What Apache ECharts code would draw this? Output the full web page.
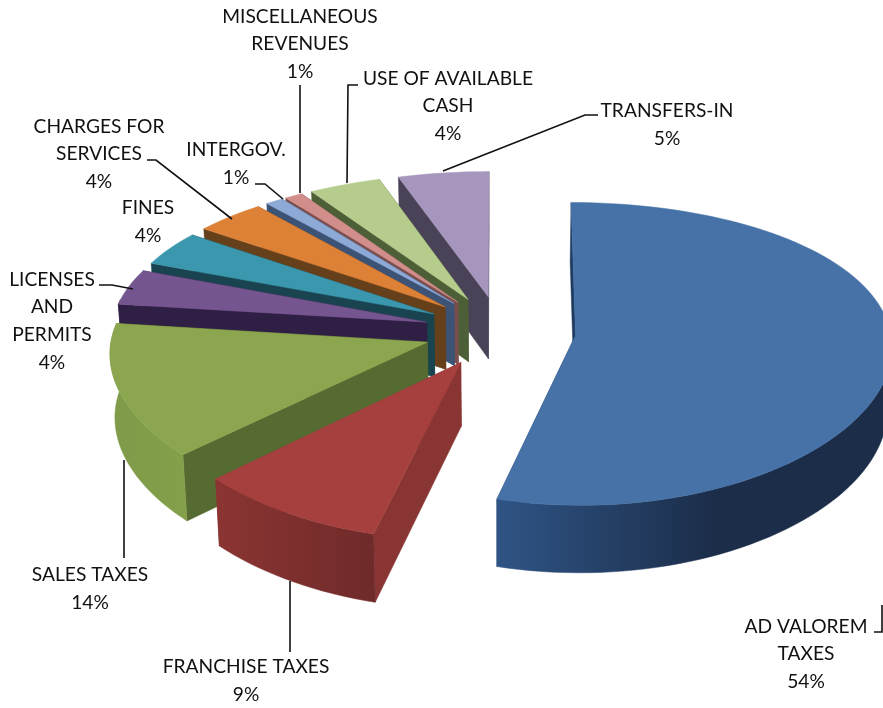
<!DOCTYPE html>
<html>
<head>
<meta charset="utf-8">
<title>Revenue sources</title>
<style>html,body{margin:0;padding:0;background:#fff}#chart{width:883px;height:708px}</style>
<script src="https://cdn.jsdelivr.net/npm/echarts@6/dist/echarts.min.js"></script>
</head>
<body>
<div id="chart"></div>
<script>
// Revenue categories and their percentage shares, clockwise from twelve o'clock.
const categories = [
  'AD VALOREM\nTAXES', 'FRANCHISE TAXES', 'SALES TAXES', 'LICENSES\nAND\nPERMITS', 'FINES',
  'CHARGES FOR\nSERVICES', 'INTERGOV.', 'MISCELLANEOUS\nREVENUES', 'USE OF AVAILABLE\nCASH', 'TRANSFERS-IN'
];
const values = [54, 9, 14, 4, 4, 4, 1, 1, 4, 5];

// Face colours per slice: top, visible side wall, rim gradient (left to right).
const topColors = ['#4672A8', '#A5403F', '#8BA64F', '#74558F', '#3A97AE', '#DD8136', '#8DA9D6', '#D18E8B', '#B5CC8D', '#A695BC'];
const wallColors = ['#1E3B60', '#883533', '#566B31', '#2F1F45', '#19444F', '#66401A', '#3D5376', '#7A4E4C', '#4D5F36', '#4A4357'];
const rimColors = [
  ['#2F5485', '#1B2D49'], ['#8B3533', '#6E2A29'], ['#7F9A49', '#84A04A'], ['#2F1F45', '#2F1F45'], ['#19444F', '#19444F'],
  ['#66401A', '#66401A'], ['#3D5376', '#3D5376'], ['#7A4E4C', '#7A4E4C'], ['#4D5F36', '#4D5F36'], ['#4A4357', '#4A4357']
];

// Label block centres and leader line paths, in page pixels.
const labelCentres = [[806, 654], [246, 681], [90, 589], [52, 321], [148, 222], [99, 154], [236, 164], [300, 44], [448, 106], [667, 125]];
const leaderPaths = [
  [[874, 632], [882, 632], [882, 605]],
  [[290, 581], [290, 652]],
  [[124, 460], [124, 558]],
  [[99, 285], [112, 285], [133, 289]],
  null,
  [[147, 160], [156, 160], [232, 219]],
  [[255, 184], [265, 184], [283, 199]],
  [[300, 85], [300, 193]],
  [[358, 85], [348, 85], [347, 183]],
  [[598, 115], [585, 115], [443, 171]]
];

// Projection of the tilted, exploded pie onto the page.
const view = { vx: 500, oy: 331, tilt: 0.47, depthX: 5000, depthY: 2600, radius: 315, explode: 76, thickness: 63, taper: 0.0127 };
const total = values.reduce((a, b) => a + b, 0);
const toRad = Math.PI / 180;

function sliceAngles(i) {
  let before = 0;
  for (let k = 0; k < i; k++) before += values[k];
  const start = before / total * 360;
  return { start, end: start + values[i] / total * 360 };
}

function project(mid, theta, radiusScale, lower) {
  const b = mid * toRad, t = theta * toRad;
  const X = view.explode * Math.sin(b) + view.radius * radiusScale * Math.sin(t);
  const Y = -(view.explode * Math.cos(b) + view.radius * radiusScale * Math.cos(t));
  const px = 1 / (1 - Y / view.depthX);
  const py = 1 / (1 - Y / view.depthY);
  let x = view.vx + X * px;
  let y = view.oy + view.tilt * Y * py;
  if (lower) {
    x = view.vx + (x - view.vx) * (1 - view.taper);
    y += view.thickness * (1 + (py - 1) * 0.5);
  }
  return [x, y];
}

function arcPoints(mid, from, to, lower) {
  const pts = [];
  const steps = Math.max(2, Math.ceil((to - from) / 2));
  for (let s = 0; s <= steps; s++) pts.push(project(mid, from + (to - from) * s / steps, 1, lower));
  return pts;
}

function polygon(points, fill, z2) {
  return { type: 'polygon', shape: { points }, z2, style: { fill, stroke: fill, lineWidth: 0.5 }, silent: true };
}

function renderSlice(params, api) {
  const i = params.dataIndex;
  const share = api.value(0);
  const { start, end } = sliceAngles(i);
  const mid = (start + end) / 2;
  const base = (values.length - i) * 10;
  const children = [];

  // Radial walls, the farther one first.
  const wall = (theta, z) => polygon([
    project(mid, theta, 0, false), project(mid, theta, 1, false),
    project(mid, theta, 1, true), project(mid, theta, 0, true)
  ], wallColors[i], base + z);
  const farFirst = project(mid, start, 1, false)[1] < project(mid, end, 1, false)[1];
  children.push(wall(start, farFirst ? 0 : 1), wall(end, farFirst ? 1 : 0));

  // Outer rim, only where it faces the viewer; the big slice darkens early towards the right.
  const rimFrom = Math.max(start, 85), rimTo = Math.min(end, 279);
  if (rimTo > rimFrom) {
    const rim = arcPoints(mid, rimFrom, rimTo, false).concat(arcPoints(mid, rimFrom, rimTo, true).reverse());
    const fill = new echarts.graphic.LinearGradient(0, 0, 1, 0, [
      { offset: 0, color: rimColors[i][0] },
      { offset: i === 0 ? 0.55 : 1, color: rimColors[i][1] },
      { offset: 1, color: rimColors[i][1] }
    ]);
    children.push(polygon(rim, fill, base + 2));
  }

  // Top face.
  children.push(polygon([project(mid, start, 0, false)].concat(arcPoints(mid, start, end, false)), topColors[i], base + 3));

  // Leader line and label.
  if (leaderPaths[i]) {
    children.push({
      type: 'polyline', z2: 500, silent: true,
      shape: { points: leaderPaths[i] },
      style: { stroke: '#111', lineWidth: 1.6, fill: null }
    });
  }
  children.push({
    type: 'text', z2: 600, silent: true,
    style: {
      x: labelCentres[i][0], y: labelCentres[i][1],
      text: categories[i] + '\n' + share + '%',
      align: 'center', verticalAlign: 'middle',
      font: '19.2px Lato', lineHeight: 27.6, fill: '#111'
    }
  });
  return { type: 'group', children };
}

const chart = echarts.init(document.getElementById('chart'));
chart.setOption({
  animation: false,
  backgroundColor: '#fff',
  series: [{
    type: 'custom',
    coordinateSystem: 'none',
    data: values,
    renderItem: renderSlice
  }]
});
</script>
</body>
</html>
